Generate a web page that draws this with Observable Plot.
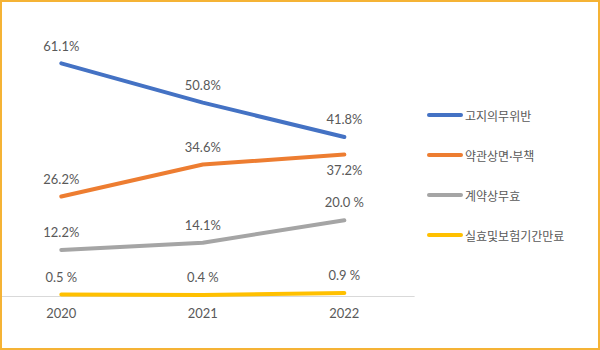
<!DOCTYPE html>
<html>
<head>
<meta charset="utf-8">
<script src="https://cdn.jsdelivr.net/npm/d3@7"></script>
<script src="https://cdn.jsdelivr.net/npm/@observablehq/plot@0.6"></script>
<style>
  html, body { margin: 0; padding: 0; background: #fff; }
  #wrap {
    position: relative; width: 600px; height: 350px; box-sizing: border-box;
    border: 2px solid #F5B335; background: #fff; overflow: hidden;
  }
  #chart { position: absolute; left: -2px; top: -2px; }
  #legend {
    position: absolute; left: 425px; top: 93px;
    font-family: Lato, "Noto Sans CJK KR", sans-serif; font-size: 12px; color: #595959;
  }
  .item { display: flex; align-items: center; height: 40px; }
  .swatch { width: 36px; height: 4px; border-radius: 2px; margin-right: 2px; }
</style>
</head>
<body>
<div id="wrap">
  <div id="chart"></div>
  <div id="legend"></div>
</div>
<script>
const years = ["2020", "2021", "2022"];
const seriesNames = ["고지의무위반", "약관상면·부책", "계약상무효", "실효및보험기간만료"];
const seriesColors = ["#4472C4", "#ED7D31", "#A5A5A5", "#FFC000"];
const valGoji = [61.1, 50.8, 41.8];
const valYakgwan = [26.2, 34.6, 37.2];
const valGyeyak = [12.2, 14.1, 20.0];
const valSilhyo = [0.5, 0.4, 0.9];
const lblGoji = ["61.1%", "50.8%", "41.8%"];
const lblYakgwan = ["26.2%", "34.6%", "37.2%"];
const lblGyeyak = ["12.2%", "14.1%", "20.0 %"];
const lblSilhyo = ["0.5 %", "0.4 %", "0.9 %"];

const allVals = [valGoji, valYakgwan, valGyeyak, valSilhyo];
const allLbls = [lblGoji, lblYakgwan, lblGyeyak, lblSilhyo];

const rows = [];
seriesNames.forEach((s, i) => {
  years.forEach((y, j) => {
    rows.push({series: s, year: y, value: allVals[i][j], label: allLbls[i][j]});
  });
});
// one label sits below its point in the reference
const isBelow = d => d.series === seriesNames[1] && d.year === years[2];

const plot = Plot.plot({
  width: 600,
  height: 350,
  marginLeft: 2,
  marginRight: 184,
  marginTop: 29,
  marginBottom: 53,
  style: {fontFamily: "Lato, 'Noto Sans CJK KR', sans-serif", fontSize: "13px", color: "#595959", background: "transparent"},
  x: {type: "point", domain: years, range: [60, 345], padding: 0},
  y: {domain: [0, 70], range: [297, 29], axis: null},
  color: {domain: seriesNames, range: seriesColors},
  marks: [
    Plot.ruleY([0], {stroke: "#D9D9D9", strokeWidth: 1}),
    Plot.axisX({tickSize: 0, tickPadding: 12, label: null, fill: "#595959", fontSize: 13}),
    Plot.line(rows, {x: "year", y: "value", z: "series", stroke: "series", strokeWidth: 4, strokeLinecap: "round", strokeLinejoin: "round"}),
    Plot.text(rows.filter(d => !isBelow(d)), {x: "year", y: "value", text: "label", dy: -17, fill: "#595959", fontSize: 13}),
    Plot.text(rows.filter(isBelow), {x: "year", y: "value", text: "label", dy: 16, fill: "#595959", fontSize: 13})
  ]
});
document.getElementById("chart").appendChild(plot);

const legend = document.getElementById("legend");
seriesNames.forEach((s, i) => {
  const item = document.createElement("div");
  item.className = "item";
  const sw = document.createElement("span");
  sw.className = "swatch";
  sw.style.background = seriesColors[i];
  const t = document.createElement("span");
  t.textContent = s;
  item.appendChild(sw);
  item.appendChild(t);
  legend.appendChild(item);
});
</script>
</body>
</html>
